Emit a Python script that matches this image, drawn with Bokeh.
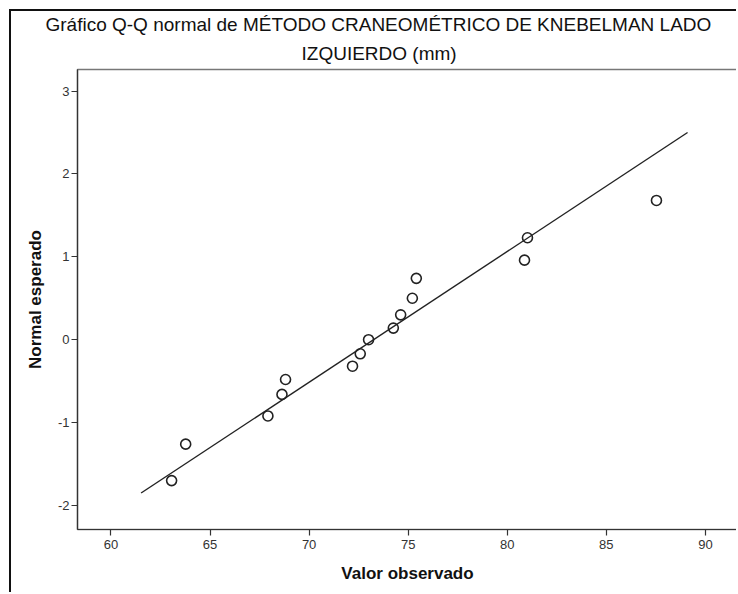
from bokeh.plotting import figure
from bokeh.models import Range1d, Title, FixedTicker
from bokeh.embed import file_html
from bokeh.resources import INLINE

# Data
observed = [63.06, 63.77, 67.92, 68.63, 68.81, 72.19, 72.58, 73.00, 74.25, 74.62, 75.21, 75.41, 80.87, 81.02, 87.53]
expected = [-1.70, -1.26, -0.92, -0.66, -0.48, -0.32, -0.17, 0.00, 0.14, 0.30, 0.50, 0.74, 0.96, 1.23, 1.68]
line_x = [61.52, 89.10]
line_y = [-1.85, 2.50]
x_ticks = [60, 65, 70, 75, 80, 85, 90]
y_ticks = [-2, -1, 0, 1, 2, 3]
y_tick_labels = ["-2", "-1", "0", "1", "2", "3"]
title_line1 = "Gráfico Q-Q normal de MÉTODO CRANEOMÉTRICO DE KNEBELMAN LADO"
title_line2 = "IZQUIERDO (mm)"
x_label = "Valor observado"
y_label = "Normal esperado"

FONT = "Liberation Sans"

p = figure(width=727, height=583, output_backend="svg", toolbar_location=None,
           x_range=Range1d(58.31, 91.62), y_range=Range1d(-2.29, 3.26),
           min_border_left=66, min_border_top=58, min_border_right=1, min_border_bottom=65)
p.title = None
p.styles = {"margin-left": "9px", "margin-top": "9px",
            "border-left": "2px solid #111", "border-top": "2px solid #111"}

t2 = Title(text=title_line2, align="left", text_font=FONT, text_font_size="19px",
           text_font_style="normal", text_color="#111", offset=224, standoff=12)
p.add_layout(t2, "above")
t1 = Title(text=title_line1, align="left", text_font=FONT, text_font_size="19px",
           text_font_style="normal", text_color="#111", offset=-32, standoff=0)
p.add_layout(t1, "above")

p.xgrid.visible = False
p.ygrid.visible = False
p.outline_line_color = "#777"
p.outline_line_width = 1.5
p.background_fill_color = "white"
p.border_fill_color = "white"

for ax in (p.xaxis[0], p.yaxis[0]):
    ax.axis_line_color = "#333"
    ax.axis_line_width = 1.2
    ax.major_tick_line_color = "#333"
    ax.major_tick_line_width = 1.2
    ax.major_tick_out = 6
    ax.major_tick_in = 0
    ax.minor_tick_line_color = None
    ax.major_label_text_font = FONT
    ax.major_label_text_font_size = "13px"
    ax.major_label_text_color = "#333"
    ax.axis_label_text_font = FONT
    ax.axis_label_text_font_size = "17px"
    ax.axis_label_text_font_style = "bold"
    ax.axis_label_text_color = "#111"

p.xaxis[0].ticker = FixedTicker(ticks=x_ticks)
p.yaxis[0].ticker = FixedTicker(ticks=y_ticks)
p.yaxis[0].major_label_overrides = {float(v): s for v, s in zip(y_ticks, y_tick_labels)}
p.xaxis[0].axis_label = x_label
p.yaxis[0].axis_label = y_label
p.xaxis[0].major_label_standoff = 4
p.yaxis[0].major_label_standoff = 2
p.xaxis[0].axis_label_standoff = 12
p.yaxis[0].axis_label_standoff = 10

p.line(line_x, line_y, line_color="#222", line_width=1.4)
p.scatter(observed, expected, marker="circle", size=10, fill_color=None,
          line_color="#222", line_width=1.6)

open("out.html", "w").write(file_html(p, INLINE))
